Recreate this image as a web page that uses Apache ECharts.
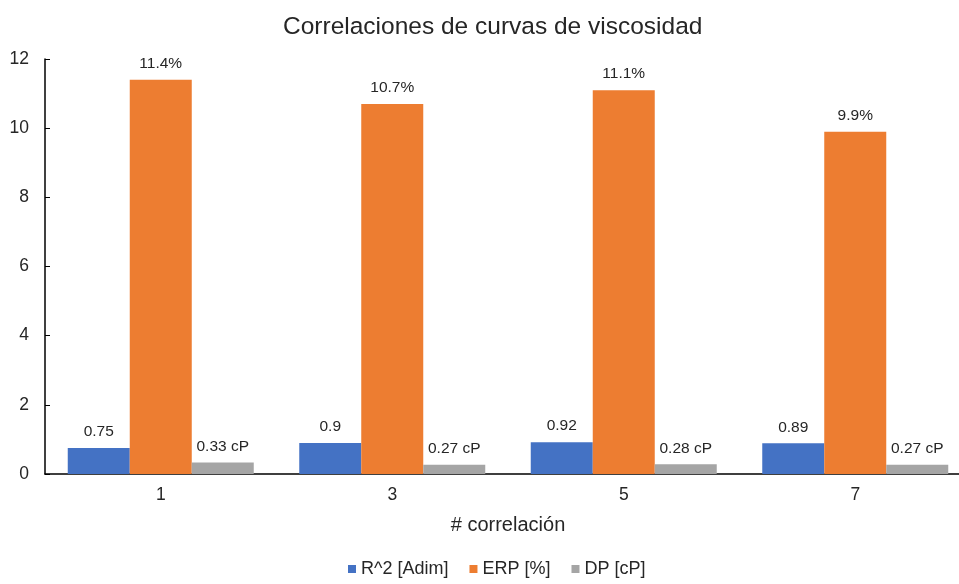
<!DOCTYPE html>
<html>
<head>
<meta charset="utf-8">
<script src="https://cdn.jsdelivr.net/npm/echarts@6/dist/echarts.min.js"></script>
<style>
  html, body { margin: 0; padding: 0; background: #fff; }
  #chart { width: 959px; height: 584px; }
</style>
</head>
<body>
<div id="chart"></div>
<script>
// Viscosity-curve correlation metrics per correlation number
const categories = ['1', '3', '5', '7'];
const r2Values = [0.75, 0.9, 0.92, 0.89];
const erpValues = [11.4, 10.7, 11.1, 9.9];
const dpValues = [0.33, 0.27, 0.28, 0.27];
const seriesNames = ['R^2 [Adim]', 'ERP [%]', 'DP [cP]'];

const FONT = '"Liberation Sans", Arial, sans-serif';
const TEXT = '#262626';
const chart = echarts.init(document.getElementById('chart'), null, { renderer: 'canvas' });

const labelStyle = (fmt) => ({
  show: true,
  position: 'top',
  distance: 8,
  color: TEXT,
  fontFamily: FONT,
  fontSize: 15.5,
  formatter: fmt
});

chart.setOption({
  animation: false,
  backgroundColor: '#ffffff',
  title: {
    text: 'Correlaciones de curvas de viscosidad',
    left: 278,
    top: 10,
    textStyle: { fontFamily: FONT, fontSize: 24.5, fontWeight: 'normal', color: TEXT }
  },
  legend: {
    bottom: 1,
    left: 343,
    itemWidth: 8,
    itemHeight: 8,
    itemGap: 21,
    icon: 'rect',
    textStyle: { fontFamily: FONT, fontSize: 18, color: TEXT },
    data: seriesNames
  },
  grid: { left: 45, top: 59, height: 415, width: 926, outerBoundsMode: 'none', containLabel: false },
  xAxis: {
    type: 'category',
    data: categories,
    name: '# correlación',
    nameLocation: 'middle',
    nameGap: 41,
    nameTextStyle: { fontFamily: FONT, fontSize: 20, color: TEXT, verticalAlign: 'top' },
    axisLine: { lineStyle: { color: '#000', width: 1.5 } },
    axisTick: { show: false },
    axisLabel: { fontFamily: FONT, fontSize: 17.5, color: TEXT, margin: 12 }
  },
  yAxis: {
    type: 'value',
    min: 0,
    max: 12,
    interval: 2,
    splitLine: { show: false },
    axisLine: { show: true, lineStyle: { color: '#000', width: 1.5 } },
    axisTick: { show: true, inside: true, length: 5, lineStyle: { color: '#000' } },
    axisLabel: { fontFamily: FONT, fontSize: 17.5, color: TEXT, margin: 16 }
  },
  series: [
    {
      name: seriesNames[0], type: 'bar', data: r2Values,
      barWidth: 62, barGap: '0%',
      itemStyle: { color: '#4472C4' },
      label: labelStyle('{c}')
    },
    {
      name: seriesNames[1], type: 'bar', data: erpValues,
      barWidth: 62, barGap: '0%',
      itemStyle: { color: '#ED7D31' },
      label: labelStyle((p) => p.value.toFixed(1) + '%')
    },
    {
      name: seriesNames[2], type: 'bar', data: dpValues,
      barWidth: 62, barGap: '0%',
      itemStyle: { color: '#A5A5A5' },
      label: labelStyle((p) => p.value.toFixed(2) + ' cP')
    }
  ]
});
</script>
</body>
</html>
